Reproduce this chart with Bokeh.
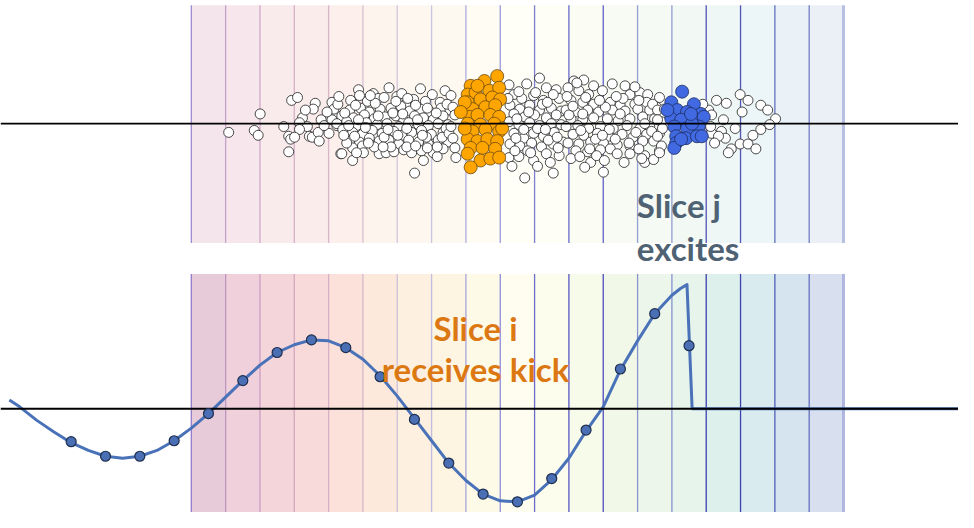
import numpy as np
from bokeh.plotting import figure
from bokeh.models import Range1d
from bokeh.core.properties import value
from bokeh.embed import file_html
from bokeh.resources import INLINE

# ---------------- data ----------------
n_slices = 19
slice_width = 34.9          # longitudinal position units per slice
kick_slice = 8              # slice i (receives kick)
source_slice = 14           # slice j (excites)

# macro-particles: (z, transverse offset) in arbitrary units
white_particles = [
    (38,-9),(64,-7),(68,-12),(70,10),(94,-3),(102,24),(108,27),(113,6),(110,1),(118,-3),(110,-6),
    (99,-13),(101,-16),(105,-14),(99,-29),(120,-13),(123,-14),(129,-9),(126,21),(124,15),(132,4),
    (140,-10),(143,22),(145,15),(143,4),(148,-2),(152,-31),(135,-2),(138,12),(130,-18),(116,14),
    (170,35),(171,29),(185,31),(190,26),(201,37),(209,28),(233,36),(258,34),(162,24),(179,23),
    (196,27),(218,20),(226,25),(238,23),(253,22),(264,29),
    (149,20),(161,14),(172,16),(181,12),(192,15),(203,16),(213,18),(222,13),(233,15),(243,12),
    (254,16),(263,14),
    (153,8),(165,6),(176,9),(186,5),(197,7),(208,8),(216,3),(227,8),(236,6),(246,4),(256,8),
    (148,0),(158,2),(168,-2),(178,1),(189,-1),(199,0),(211,-3),(221,1),(231,-1),(241,-2),(251,0),(261,-1),
    (154,-6),(164,-9),(174,-11),(184,-7),(194,-10),(206,-8),(214,-12),(224,-9),(234,-7),(244,-11),(256,-9),
    (161,-18),(171,-19),(181,-15),(191,-18),(201,-17),(211,-21),(221,-17),(231,-19),(241,-21),(251,-17),(261,-19),
    (164,-25),(174,-23),(191,-31),(198,-30),(206,-29),(216,-27),(224,-30),(234,-28),(246,-30),(256,-26),
    (153,-31),(164,-38),(236,-38),(227,-51),
    (156,11),(167,19),(177,-4),(187,21),(196,-14),(205,11),(219,-5),(228,19),(239,-14),(249,11),
    (259,-5),(166,-13),(186,-24),(203,-24),(219,-24),(240,-25),(182,29),(214,31),(245,30),(158,-20),
    (208,23),(228,-23),(250,-34),
    (150,28),(160,-2),(170,4),(180,-20),(190,8),(200,-6),(210,-12),(220,26),(230,4),(240,16),
    (250,-24),(260,20),(155,-12),(175,-30),(195,-24),(215,10),(235,-12),(255,-14),(168,-30),(262,-10),
    (266,17),(268,9),(264,-3),(266,-15),(268,-25),(269,-35),
    (323,40),(341,41),(354,47),(361,37),(371,35),(328,30),(336,26),(348,29),(358,24),(374,26),
    (324,19),(334,15),(344,19),(354,14),(366,16),(376,13),
    (328,10),(339,7),(349,9),(361,6),(371,9),
    (323,2),(333,-1),(344,1),(354,-2),(366,0),(376,-1),
    (328,-10),(338,-15),(348,-10),(358,-13),(369,-9),
    (324,-21),(334,-23),(346,-20),(356,-24),(368,-21),(378,-19),
    (323,-35),(333,-34),(348,-38),(361,-31),(374,-33),(339,-56),(368,-51),
    (329,-28),(342,-28),(352,-5),(363,-17),(373,-25),(331,5),(343,12),(357,20),(368,30),(333,33),
    (365,-40),(352,-44),(326,-44),
    (322,26),(338,-6),(350,32),(360,-6),(372,-14),(330,-15),(362,22),(345,-30),
    (389,44),(399,45),(409,39),(383,37),(394,34),(404,30),(418,34),(441,39),(446,30),(456,32),(464,30),(476,27),
    (386,24),(398,22),(409,20),(426,22),(436,19),(451,20),(463,22),(473,17),
    (381,14),(391,12),(403,14),(414,12),(428,14),(441,13),(454,15),(466,14),(478,10),
    (386,5),(398,4),(409,6),(423,5),(434,3),(446,5),(459,7),(471,5),
    (381,-3),(393,-2),(404,-5),(416,-3),(429,-5),(443,-2),(456,-5),(466,-3),
    (388,-11),(399,-12),(413,-10),(424,-13),(438,-11),(449,-14),(463,-11),(476,-10),
    (383,-20),(394,-21),(406,-19),(419,-20),(433,-22),(446,-23),(459,-18),
    (391,-28),(403,-29),(416,-27),(426,-26),(446,-31),(461,-33),
    (386,-36),(406,-40),(461,-40),(419,-50),(476,-28),
    (384,9),(396,-7),(411,-16),(421,17),(431,-16),(439,26),(452,-9),(461,0),(469,20),(401,27),
    (412,-33),(433,-31),(455,-26),(470,-18),(392,42),(428,41),(451,38),(470,-37),
    (382,28),(395,-34),(405,-26),(415,24),(425,-6),(436,10),(445,-20),(455,24),(468,-8),(478,2),
    (388,18),(400,-45),(420,-38),(440,-40),(458,-36),(398,10),(418,-12),(432,28),
    (474,14),(481,15),(474,4),(479,-5),(474,-13),(478,-23),(476,-30),
    (526,14),(534,24),(544,21),(558,30),(566,24),(579,19),(594,5),(588,-1),(579,-6),(541,4),
    (553,-5),(539,-8),(543,-15),(529,-10),(528,-3),(558,-21),(566,-21),(574,-26),(549,-26),(546,-30),(529,9),
    (520,20),(536,-13),(560,12),(571,-12),(532,-20),(586,14),
]

kick_particles = [
    (311,49),(298,44),(284,39),(281,30),(289,32),(303,34),(313,37),(281,22),(294,25),(306,27),(314,25),
    (286,15),(299,17),(309,19),(283,7),(291,9),(304,9),(313,7),(281,0),(294,-1),(308,0),(286,-8),
    (299,-6),(313,-8),(281,-16),(291,-18),(301,-16),(311,-18),(284,-25),(296,-25),(309,-26),(281,-31),
    (294,-38),(304,-36),(313,-35),(284,-45),(278,22),(278,-5),(316,-5),(291,39),(274,12),
]

source_particles = [
    (499,33),(488,22),(511,20),(494,14),(504,12),(518,10),(488,5),(498,4),(511,5),(521,7),(491,-3),
    (504,-5),(516,-3),(493,-13),(503,-15),(514,-13),(519,-13),(493,-20),(491,-25),(498,-16),(509,0),
    (484,14),(508,10),
]

# wake function W(z) along the bunch (z in slice units, W in arbitrary units)
wake_s = [-5.3, -5.0, -4.5, -4.0, -3.5, -3.0, -2.5, -2.0, -1.5, -1.0, -0.5, 0.0, 0.5, 1.0, 1.5,
          2.0, 2.5, 3.0, 3.5, 4.0, 4.5, 5.0, 5.5, 6.0, 6.5, 7.0, 7.5, 8.0, 8.5, 9.0, 9.5, 10.0,
          10.5, 11.0, 11.5, 12.0, 12.5, 13.0, 13.5, 14.0, 14.25, 14.44, 14.59, 22.5]
wake_w = [9, 2, -12, -24, -35, -43, -49, -51, -49, -43, -33, -20, -5, 12, 29, 45, 58, 66, 71,
          70, 63, 51, 34, 13, -10, -33, -56, -74, -88, -95, -96, -89, -73, -51, -23, 2, 40, 70,
          98, 117, 124, 128, 0, 0]

# wake sampled at slice centres (slice index)
sample_index = list(range(-4, 15))
sample_w = [-34, -49, -49, -33, -5, 29, 58, 71, 63, 33, -11, -56, -88, -96, -72, -22, 41, 98, 65]

band_colors = ["#e8cbd8", "#efd0db", "#f4d6da", "#f8dada", "#fbe1d9", "#fce9dc", "#fdf0e0",
               "#fdf4e2", "#fefae8", "#fffdf0", "#fdfdee", "#f7fbea", "#f2f8e8", "#ecf6eb",
               "#e6f4ec", "#def0eb", "#d9ebef", "#d6e4ef", "#d8dfee"]
edge_colors = ["#8a70c8", "#b890c0", "#c898c0", "#d0a0c0", "#d0a8c0", "#d0b4c8", "#c8bcd8",
               "#b8b8e0", "#9c9cdc", "#8080d4", "#5c5cc8", "#4444c0", "#3a3ab8", "#7c88cc",
               "#7c88cc", "#2a2aa8", "#2a30a8", "#4050b0", "#5560b8", "#a8b0dc"]

# ---------------- figure ----------------
p = figure(width=958, height=512, x_range=Range1d(-194, 780), y_range=Range1d(-401, 127),
           output_backend="svg", toolbar_location=None, x_axis_location=None,
           y_axis_location=None, min_border=0)
p.extra_y_ranges = {"wake": Range1d(-107, 421)}
p.grid.visible = False
p.outline_line_color = None
p.background_fill_color = "white"
p.border_fill_color = "white"

edges = np.arange(n_slices + 1) * slice_width
edge_widths = [1.3] * n_slices + [3]

# top panel: bunch slices
p.quad(left=edges[:-1], right=edges[1:], top=122, bottom=-123,
       fill_color=band_colors, fill_alpha=0.5, line_color=None)
p.segment(x0=edges, y0=-123, x1=edges, y1=122, line_color=edge_colors,
          line_width=edge_widths, line_alpha=0.8)

# bottom panel: wake
p.quad(left=edges[:-1], right=edges[1:], top=139, bottom=-110,
       fill_color=band_colors, line_color=None, y_range_name="wake")
p.segment(x0=edges, y0=-110, x1=edges, y1=139, line_color=edge_colors,
          line_width=edge_widths, line_alpha=0.9, y_range_name="wake")

# particles
wz, wy = zip(*white_particles)
p.scatter(x=list(wz), y=list(wy), size=10, fill_color="white", line_color="#2a2a2a",
          line_width=1, line_alpha=0.85)
kz, ky = zip(*kick_particles)
p.scatter(x=list(kz), y=list(ky), size=13, fill_color="#ffa500", line_color="#6b4a10",
          line_width=1, line_alpha=0.8)
sz, sy = zip(*source_particles)
p.scatter(x=list(sz), y=list(sy), size=13, fill_color="#4169e1", line_color="#1d2d60",
          line_width=1, line_alpha=0.8)

p.segment(x0=-194, y0=0, x1=780, y1=0, line_color="black", line_width=1.6)

# wake curve
p.line(x=np.array(wake_s) * slice_width, y=wake_w, line_color="#4a72b8", line_width=3,
       line_join="round", y_range_name="wake")
p.segment(x0=-194, y0=0, x1=780, y1=0, line_color="black", line_width=1.8,
          y_range_name="wake")
p.scatter(x=(np.array(sample_index) + 0.5) * slice_width, y=sample_w, size=10,
          fill_color="#4a6fb5", line_color="#1e2e4e", line_width=1.2, y_range_name="wake")

# labels
p.text(x=[453, 453], y=[-84, -128], text=["Slice j", "excites"], text_color="#4f6274",
       text_font=value("Lato"), text_font_style="bold", text_font_size="33px",
       text_align="left", text_baseline="alphabetic")
p.text(x=[289, 289], y=[83, 41], text=["Slice i", "receives kick"], text_color="#dc7812",
       text_font=value("Lato"), text_font_style="bold", text_font_size="33px",
       text_align="center", text_baseline="alphabetic", y_range_name="wake")

open("out.html", "w").write(file_html(p, INLINE))
